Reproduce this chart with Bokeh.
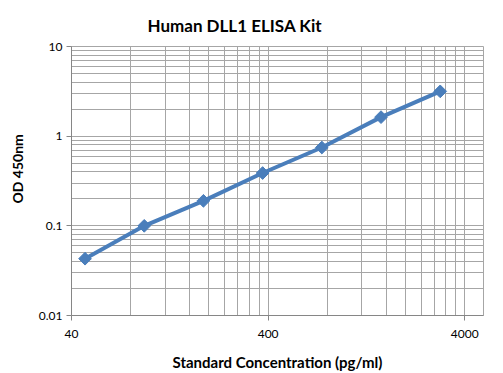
from bokeh.plotting import figure
from bokeh.models import FixedTicker, CustomJSTickFormatter, Title, ColumnDataSource
from bokeh.embed import file_html
from bokeh.resources import INLINE
import math

# ---- data ----
conc = [46.875, 93.75, 187.5, 375, 750, 1500, 3000]
od = [0.043, 0.100, 0.190, 0.388, 0.747, 1.63, 3.16]

x_major = [40, 400, 4000]
x_minor = [40 * k for k in range(2, 10)] + [400 * k for k in range(2, 10)]
y_major = [0.01, 0.1, 1, 10]
y_minor = [k * 10.0 ** e for e in (-2, -1, 0) for k in range(2, 10)]

title_text = "Human  DLL1 ELISA Kit"
x_label = "Standard Concentration (pg/ml)"
y_label = "OD 450nm"

BLUE = "#4a7ebb"
GRID = "#a6a6a6"
AXIS = "#868686"
FONT = "Lato"

p = figure(width=503, height=373, x_axis_type="log", y_axis_type="log",
           x_range=(40, 4980), y_range=(0.01, 10),
           output_backend="svg", toolbar_location=None,
           min_border_left=70, min_border_right=20,
           min_border_top=46, min_border_bottom=58)

p.title.text = title_text
p.title.text_font = FONT
p.title.text_font_size = "17px"
p.title.text_font_style = "bold"
p.title.text_color = "#000000"
p.title.align = "left"
p.title.offset = 76
p.title.standoff = 22

p.outline_line_color = GRID
p.background_fill_color = "white"
p.border_fill_color = "white"

for ax, maj, mnr in ((p.xaxis[0], x_major, x_minor), (p.yaxis[0], y_major, y_minor)):
    ax.ticker = FixedTicker(ticks=maj, minor_ticks=mnr)
    ax.formatter = CustomJSTickFormatter(code="return tick.toString();")
    ax.major_tick_in = 0
    ax.major_tick_out = 5
    ax.minor_tick_in = 0
    ax.minor_tick_out = 0
    ax.axis_line_color = AXIS
    ax.major_tick_line_color = AXIS
    ax.major_label_text_font = FONT
    ax.major_label_text_font_size = "12px"
    ax.major_label_text_color = "#000000"

p.xaxis.major_label_standoff = 9
p.yaxis.major_label_standoff = 4

p.xaxis.axis_label = x_label
p.xaxis.axis_label_text_font = FONT
p.xaxis.axis_label_text_font_size = "15px"
p.xaxis.axis_label_text_font_style = "bold"
p.xaxis.axis_label_text_color = "#000000"
p.xaxis.axis_label_standoff = 12

for g in (p.xgrid[0], p.ygrid[0]):
    g.grid_line_color = GRID
    g.grid_line_width = 1
    g.minor_grid_line_color = GRID
    g.minor_grid_line_width = 1

ytitle = Title(text=y_label, align="left", vertical_align="top", offset=112,
               standoff=16, text_font=FONT, text_font_size="14px",
               text_font_style="bold", text_color="#000000")
p.add_layout(ytitle, "left")

src = ColumnDataSource(dict(x=conc, y=od))
p.line("x", "y", source=src, line_color=BLUE, line_width=4)
p.scatter("x", "y", source=src, marker="square", angle=math.pi / 4, size=9,
          fill_color=BLUE, line_color=BLUE)

open("out.html", "w").write(file_html(p, INLINE))
